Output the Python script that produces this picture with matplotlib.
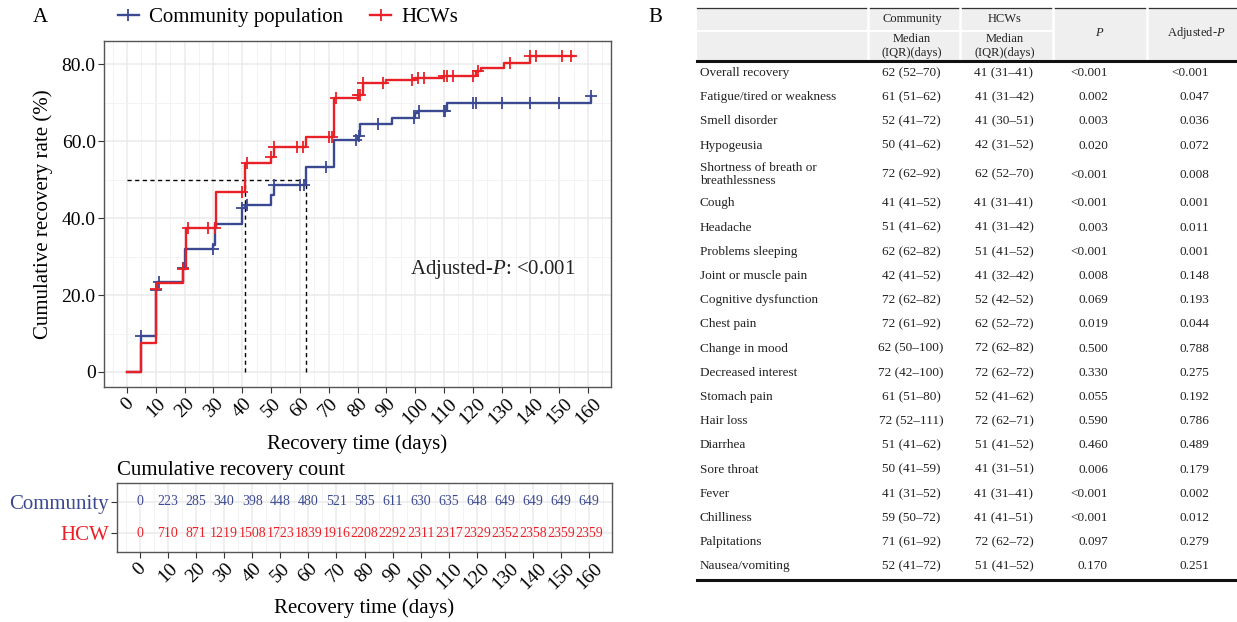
import numpy as np
import matplotlib
matplotlib.use('Agg')
import matplotlib.pyplot as plt
from matplotlib.lines import Line2D
from matplotlib.patches import Rectangle
from matplotlib.ticker import MultipleLocator

plt.rcParams['font.family'] = ['Liberation Serif', 'DejaVu Serif']
plt.rcParams['mathtext.fontset'] = 'custom'
plt.rcParams['mathtext.rm'] = 'Liberation Serif'
plt.rcParams['mathtext.it'] = 'Liberation Serif:italic'

BLUE = '#3B4992'
RED = '#EA2027'

# --- KM curves (step times, cumulative recovery %)
comm_t = [0, 5, 10, 10.5, 19.5, 20, 30, 30.5, 40, 41, 50, 51, 62, 72, 80, 81, 92, 100, 101, 111, 161]
comm_y = [0, 9.4, 21.3, 23.4, 26.9, 31.9, 33.0, 38.4, 42.5, 43.5, 46.0, 48.6, 53.3, 60.3, 61.3, 64.4, 66.1, 67.2, 67.8, 69.8, 71.8]
comm_cens = [5, 10, 11, 19.5, 29.7, 40, 41.5, 51, 60, 61.5, 69, 79.5, 80.5, 87, 99.5, 101.5, 110, 110.5, 120, 121, 130, 140, 150, 161]

hcw_t = [0, 5, 10, 10.5, 19.5, 20.3, 31, 41, 50, 51, 62, 72, 80, 82, 90, 100, 110, 121, 123, 131, 140, 155]
hcw_y = [0, 7.5, 21.5, 23.0, 26.7, 37.3, 46.7, 54.2, 55.9, 58.5, 61.1, 71.1, 72.1, 75.0, 75.8, 76.3, 76.9, 78.2, 78.9, 80.4, 82.0, 82.0]
hcw_cens = [10, 19.5, 21, 28, 30.5, 40, 41.5, 50, 51, 59, 61, 70, 71, 72.5, 80, 81, 82, 89, 99, 101, 103, 110, 111, 113, 120, 122, 133, 140, 142, 151, 154]

median_hcw = 41
median_comm = 62

# --- risk table
risk_times = list(range(0, 161, 10))
comm_counts = [0, 223, 285, 340, 398, 448, 480, 521, 585, 611, 630, 635, 648, 649, 649, 649, 649]
hcw_counts = [0, 710, 871, 1219, 1508, 1723, 1839, 1916, 2208, 2292, 2311, 2317, 2329, 2352, 2358, 2359, 2359]

# --- table B
symptoms = ['Overall recovery', 'Fatigue/tired or weakness', 'Smell disorder', 'Hypogeusia',
            'Shortness of breath or\nbreathlessness', 'Cough', 'Headache', 'Problems sleeping',
            'Joint or muscle pain', 'Cognitive dysfunction', 'Chest pain', 'Change in mood',
            'Decreased interest', 'Stomach pain', 'Hair loss', 'Diarrhea', 'Sore throat', 'Fever',
            'Chilliness', 'Palpitations', 'Nausea/vomiting']
comm_med = ['62 (52–70)', '61 (51–62)', '52 (41–72)', '50 (41–62)', '72 (62–92)', '41 (41–52)',
            '51 (41–62)', '62 (62–82)', '42 (41–52)', '72 (62–82)', '72 (61–92)', '62 (50–100)',
            '72 (42–100)', '61 (51–80)', '72 (52–111)', '51 (41–62)', '50 (41–59)', '41 (31–52)',
            '59 (50–72)', '71 (61–92)', '52 (41–72)']
hcw_med = ['41 (31–41)', '41 (31–42)', '41 (30–51)', '42 (31–52)', '62 (52–70)', '41 (31–41)',
           '41 (31–42)', '51 (41–52)', '41 (32–42)', '52 (42–52)', '62 (52–72)', '72 (62–82)',
           '72 (62–72)', '52 (41–62)', '72 (62–71)', '51 (41–52)', '41 (31–51)', '41 (31–41)',
           '41 (41–51)', '72 (62–72)', '51 (41–52)']
p_vals = ['<0.001', '0.002', '0.003', '0.020', '<0.001', '<0.001', '0.003', '<0.001', '0.008', '0.069',
          '0.019', '0.500', '0.330', '0.055', '0.590', '0.460', '0.006', '<0.001', '<0.001', '0.097', '0.170']
adj_p = ['<0.001', '0.047', '0.036', '0.072', '0.008', '0.001', '0.011', '0.001', '0.148', '0.193',
         '0.044', '0.788', '0.275', '0.192', '0.786', '0.489', '0.179', '0.002', '0.012', '0.279', '0.251']

W, H = 1237, 622
fig = plt.figure(figsize=(W / 100, H / 100), dpi=100)


def px_axes(l, t, r, b):
    return fig.add_axes([l / W, 1 - b / H, (r - l) / W, (b - t) / H])


def step_at(ts, ys, c):
    i = np.searchsorted(ts, c, side='right') - 1
    return np.array(ys)[i]


def style_grid(ax):
    ax.set_axisbelow(True)
    ax.grid(which='major', color='#EBEBEB', lw=1.1)
    ax.grid(which='minor', color='#F3F3F3', lw=0.7)
    ax.tick_params(which='minor', length=0)
    ax.tick_params(which='major', length=4, width=0.8, color='#333333', labelsize=14, pad=2)
    for s in ax.spines.values():
        s.set_color('#555555')
        s.set_linewidth(1.0)


# ---------------- panel A main
ax = px_axes(104, 40.7, 611, 387)
ax.set_xlim(-8, 168)
ax.set_ylim(-3.9, 86.1)
ax.set_xticks(risk_times)
ax.xaxis.set_minor_locator(MultipleLocator(5))
ax.set_yticks([0, 20, 40, 60, 80])
ax.set_yticklabels(['0', '20.0', '40.0', '60.0', '80.0'])
ax.yaxis.set_minor_locator(MultipleLocator(10))
style_grid(ax)
plt.setp(ax.get_xticklabels(), rotation=45, ha='center')

ax.plot([0, median_comm], [50, 50], color='black', lw=1, dashes=(3, 2.5))
ax.plot([median_hcw, median_hcw], [0, 50], color='black', lw=1, dashes=(3, 2.5))
ax.plot([median_comm, median_comm], [0, 50], color='black', lw=1, dashes=(3, 2.5))

ax.step(comm_t, comm_y, where='post', color=BLUE, lw=1.7)
ax.plot(comm_cens, step_at(comm_t, comm_y, comm_cens), '+', color=BLUE, ms=8, mew=1.3)
ax.step(hcw_t, hcw_y, where='post', color=RED, lw=1.7)
ax.plot(hcw_cens, step_at(hcw_t, hcw_y, hcw_cens), '+', color=RED, ms=8, mew=1.3)

ax.text(98.2, 26.7, 'Adjusted-$\\mathit{P}$: <0.001', fontsize=15, va='center', ha='left', color='#222222')
ax.set_xlabel('Recovery time (days)', fontsize=15, labelpad=4)
ax.set_ylabel('Cumulative recovery rate (%)', fontsize=15, labelpad=6)

handles = [Line2D([0], [0], color=BLUE, lw=1.7, marker='+', ms=8, mew=1.3),
           Line2D([0], [0], color=RED, lw=1.7, marker='+', ms=8, mew=1.3)]
ax.legend(handles, ['Community population', 'HCWs'], loc='center left', bbox_to_anchor=(0.027, 1.068),
          ncol=2, frameon=False, fontsize=15, handlelength=1.0, handletextpad=0.5,
          columnspacing=1.3, borderpad=0, borderaxespad=0)

# ---------------- risk table
ax2 = px_axes(117.3, 483.3, 611.7, 551.7)
ax2.set_xlim(-8, 168)
ax2.set_ylim(0.42, 2.58)
ax2.set_xticks(risk_times)
ax2.xaxis.set_minor_locator(MultipleLocator(5))
ax2.set_yticks([2, 1])
ax2.set_yticklabels(['Community', 'HCW'])
style_grid(ax2)
ax2.tick_params(axis='y', labelsize=15)
for lab, c in zip(ax2.get_yticklabels(), [BLUE, RED]):
    lab.set_color(c)
plt.setp(ax2.get_xticklabels(), rotation=45, ha='center')
for t, a, b in zip(risk_times, comm_counts, hcw_counts):
    ax2.text(t, 2, str(a), color=BLUE, fontsize=10, ha='center', va='center')
    ax2.text(t, 1, str(b), color=RED, fontsize=10, ha='center', va='center')
ax2.set_title('Cumulative recovery count', loc='left', fontsize=15, pad=6)
ax2.set_xlabel('Recovery time (days)', fontsize=15, labelpad=4)

fig.text(40 / W, 1 - 18 / H, 'A', fontsize=15, ha='center', va='center')
fig.text(655 / W, 1 - 18 / H, 'B', fontsize=15, ha='center', va='center')

# ---------------- panel B table
tax = fig.add_axes([0, 0, 1, 1])
tax.set_xlim(0, W)
tax.set_ylim(H, 0)
tax.axis('off')

tl, tr = 697, 1237
col_edges = [868, 960, 1053, 1147]
tax.add_patch(Rectangle((tl, 7.5), tr - tl, 53, color='#EFEFEF', lw=0))
tax.plot([tl, tr], [7.5, 7.5], color='#333333', lw=0.9)
tax.plot([tl, 1053], [31, 31], color='white', lw=1.5)
for x in col_edges:
    tax.plot([x, x], [6.5, 60], color='white', lw=1.8)
tax.plot([tl, tr], [61, 61], color='#111111', lw=2.2)

hfs = 9
tax.text(912, 19, 'Community', fontsize=hfs, ha='center', va='center', color='#222222')
tax.text(1005, 19, 'HCWs', fontsize=hfs, ha='center', va='center', color='#222222')
for xc in [912, 1005]:
    tax.text(xc, 46, 'Median\n(IQR)(days)', fontsize=hfs, ha='center', va='center',
             linespacing=1.15, color='#222222')
tax.text(1100, 33, '$\\mathit{P}$', fontsize=hfs, ha='center', va='center', color='#222222')
tax.text(1196, 33, 'Adjusted-$\\mathit{P}$', fontsize=hfs, ha='center', va='center', color='#222222')

bfs = 9.5
y = 61
for i, name in enumerate(symptoms):
    h = 33.5 if '\n' in name else 24.2
    yc = y + h / 2
    tax.text(700, yc, name, fontsize=bfs, ha='left', va='center', linespacing=1.05, color='#222222')
    tax.text(911, yc, comm_med[i], fontsize=bfs, ha='center', va='center', color='#222222')
    tax.text(1004, yc, hcw_med[i], fontsize=bfs, ha='center', va='center', color='#222222')
    tax.text(1108, yc, p_vals[i], fontsize=bfs, ha='right', va='center', color='#222222')
    tax.text(1209, yc, adj_p[i], fontsize=bfs, ha='right', va='center', color='#222222')
    y += h
tax.plot([tl, tr], [580, 580], color='#111111', lw=2.2)

fig.savefig('out.png', dpi=100)
